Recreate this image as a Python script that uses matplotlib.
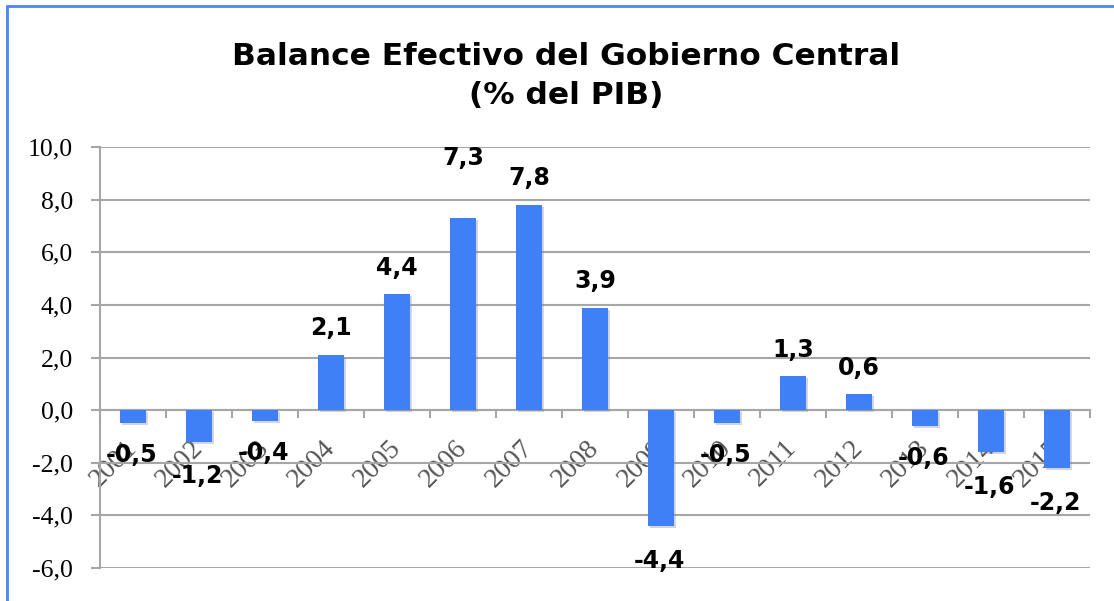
import matplotlib
matplotlib.use("Agg")
import matplotlib.pyplot as plt
import matplotlib.transforms as mtrans
import matplotlib.patheffects as pe
from matplotlib.patches import Rectangle
from matplotlib.ticker import FixedLocator, FuncFormatter

years = ["2001", "2002", "2003", "2004", "2005", "2006", "2007", "2008",
         "2009", "2010", "2011", "2012", "2013", "2014", "2015"]
values = [-0.5, -1.2, -0.4, 2.1, 4.4, 7.3, 7.8, 3.9,
          -4.4, -0.5, 1.3, 0.6, -0.6, -1.6, -2.2]
y_ticks = [-6, -4, -2, 0, 2, 4, 6, 8, 10]
title = "Balance Efectivo del Gobierno Central\n(% del PIB)"

BAR = "#4080f6"
GRID = "#a6a6a6"

fig = plt.figure(figsize=(11.14, 6.01), dpi=100)
W, H = 1114, 601
ax = fig.add_axes([100 / W, 33 / H, 990 / W, 421 / H])

# outer blue frame (left/top visible)
fig.add_artist(Rectangle((7 / W, -0.1), 1.2, (601 - 6) / H + 0.1,
                         transform=fig.transFigure, fill=False,
                         edgecolor="#4a86f0", linewidth=2.0))

x = list(range(len(years)))
bars = ax.bar(x, values, width=0.4, color=BAR, zorder=3)
for b in bars:
    b.set_path_effects([pe.SimplePatchShadow(offset=(1.5, -1.5),
                                             shadow_rgbFace="#888888", alpha=0.35),
                        pe.Normal()])

ax.set_xlim(-0.5, len(years) - 0.5)
ax.set_ylim(-6, 10)

ax.yaxis.set_major_locator(FixedLocator(y_ticks))
ax.yaxis.set_major_formatter(FuncFormatter(lambda v, p: f"{v:.1f}".replace(".", ",")))
ax.grid(axis="y", color=GRID, linewidth=1.5)
ax.set_axisbelow(True)

for s in ["top", "right"]:
    ax.spines[s].set_visible(False)
ax.spines["left"].set_color(GRID)
ax.spines["left"].set_linewidth(1.5)
ax.spines["bottom"].set_position(("data", 0))
ax.spines["bottom"].set_color(GRID)
ax.spines["bottom"].set_linewidth(1.5)

ax.tick_params(axis="y", direction="out", length=6.5, width=1.5, color=GRID,
               pad=13, labelsize=18.5, labelcolor="black")
for lab in ax.get_yticklabels():
    lab.set_fontfamily("Liberation Serif")

ax.set_xticks(x)
ax.set_xticks([i - 0.5 for i in range(len(years) + 1)], minor=True)
ax.set_xticklabels(years, rotation=45, ha="right", va="top",
                   rotation_mode="anchor", fontfamily="Liberation Serif",
                   fontsize=20, color="#555555")
ax.tick_params(axis="x", which="major", length=0, pad=18)
ax.tick_params(axis="x", which="minor", direction="out", length=6, width=1.5, color=GRID)
off = mtrans.ScaledTranslation(-9 / 100, 0, fig.dpi_scale_trans)
for lab in ax.get_xticklabels():
    lab.set_transform(lab.get_transform() + off)

# value labels
for xi, v in zip(x, values):
    if v >= 0:
        dy = 19 if xi != 5 else 43
        ax.annotate(f"{v:.1f}".replace(".", ","), (xi, v), xytext=(0, dy),
                    textcoords="offset points", ha="center", va="center",
                    fontsize=17, fontweight="bold", fontfamily="DejaVu Sans",
                    zorder=5)
    else:
        dy = -23 if v > -1 else -25
        ax.annotate(f"{v:.1f}".replace(".", ","), (xi, v), xytext=(-1, dy),
                    textcoords="offset points", ha="center", va="center",
                    fontsize=17, fontweight="bold", fontfamily="DejaVu Sans",
                    zorder=5)

fig.text(566 / W, 1 - 76 / H, title, ha="center", va="center",
         fontsize=22.5, fontweight="bold", fontfamily="DejaVu Sans",
         linespacing=1.4)

fig.savefig("out.png", dpi=100)
